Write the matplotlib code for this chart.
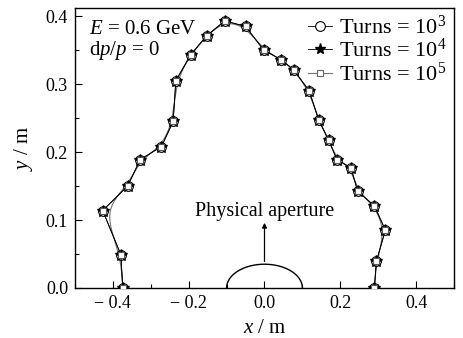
import numpy as np
import matplotlib
matplotlib.use("Agg")
import matplotlib.pyplot as plt
from matplotlib.lines import Line2D

plt.rcParams['font.family'] = ['Liberation Serif', 'DejaVu Serif']
plt.rcParams['mathtext.fontset'] = 'custom'
plt.rcParams['mathtext.rm'] = 'Liberation Serif'
plt.rcParams['mathtext.it'] = 'Liberation Serif:italic'

# Dynamic aperture boundary (x, y) in m
x_1e3 = [-0.374, -0.379, -0.427, -0.361, -0.328, -0.272, -0.241, -0.234, -0.195, -0.153,
         -0.105, -0.050, -0.002, 0.044, 0.077, 0.118, 0.143, 0.169, 0.191, 0.228,
         0.246, 0.290, 0.319, 0.295, 0.290]
y_1e3 = [0.000, 0.049, 0.114, 0.150, 0.189, 0.208, 0.245, 0.305, 0.343, 0.371,
         0.393, 0.385, 0.350, 0.336, 0.321, 0.290, 0.247, 0.218, 0.189, 0.177,
         0.142, 0.121, 0.085, 0.039, 0.000]
x_1e4 = list(x_1e3)
y_1e4 = list(y_1e3)
x_1e5 = list(x_1e3)
y_1e5 = list(y_1e3)

# Physical aperture (semi-ellipse)
ap_halfwidth = 0.1
ap_height = 0.035


def bspline(xs, ys, n=20):
    """Clamped uniform cubic B-spline through control points (like Origin's B-spline connect)."""
    P = np.column_stack([xs, ys])
    P = np.vstack([P[0], P[0], P, P[-1], P[-1]])
    t = np.linspace(0, 1, n, endpoint=False)
    b0 = (1 - t) ** 3 / 6
    b1 = (3 * t**3 - 6 * t**2 + 4) / 6
    b2 = (-3 * t**3 + 3 * t**2 + 3 * t + 1) / 6
    b3 = t**3 / 6
    pts = []
    for i in range(len(P) - 3):
        seg = (np.outer(b0, P[i]) + np.outer(b1, P[i + 1]) +
               np.outer(b2, P[i + 2]) + np.outer(b3, P[i + 3]))
        pts.append(seg)
    pts.append(P[-1][None, :])
    pts = np.vstack(pts)
    return pts[:, 0], pts[:, 1]


fig = plt.figure(figsize=(4.64, 3.38), dpi=100)
ax = fig.add_axes([75/464, 1-288/338, 379/464, 280/338])

bx, by = bspline(x_1e5, y_1e5)
ax.plot(bx, by, color='0.45', lw=0.8, zorder=1)
ax.plot(x_1e3, y_1e3, color='black', lw=0.6, marker='o', ms=7, mfc='white', mec='black', mew=0.8, zorder=2)
ax.plot(x_1e4, y_1e4, color='black', lw=0.6, marker='*', ms=9, mfc='black', mec='black', zorder=3)
ax.plot(x_1e5, y_1e5, ls='none', marker='s', ms=5, mfc='white', mec='0.35', mew=0.8, zorder=4)

t = np.linspace(0, np.pi, 200)
ax.plot(ap_halfwidth*np.cos(t), ap_height*np.sin(t), color='black', lw=1.0)
ax.annotate('', xy=(0, 0.1), xytext=(0, ap_height),
            arrowprops=dict(arrowstyle='-|>', color='black', lw=0.9, mutation_scale=7))
ax.text(0, 0.113, 'Physical aperture', ha='center', va='center', fontsize=14.5)

ax.text(-0.462, 0.381, r'$E$ = 0.6 GeV', fontsize=15, va='center')
ax.text(-0.462, 0.349, r'd$p$/$p$ = 0', fontsize=15, va='center')

ax.set_xlim(-0.5, 0.5)
ax.set_ylim(0, 0.412)
ax.set_xticks([-0.4, -0.2, 0.0, 0.2, 0.4])
ax.set_xticklabels(['\u2212 0.4', '\u2212 0.2', '0.0', '0.2', '0.4'])
ax.set_xticks(np.arange(-0.5, 0.51, 0.1), minor=True)
ax.set_yticks([0.0, 0.1, 0.2, 0.3, 0.4])
ax.set_yticks(np.arange(0.05, 0.41, 0.1), minor=True)
ax.tick_params(direction='in', which='both', labelsize=13, length=5, width=0.8, pad=5)
ax.tick_params(which='minor', length=3)
for s in ax.spines.values():
    s.set_linewidth(1.0)

ax.set_xlabel(r'$x$ / m', fontsize=15, labelpad=5)
ax.set_ylabel(r'$y$ / m', fontsize=15, labelpad=8)

handles = [
    Line2D([], [], color='black', lw=0.6, marker='o', ms=7, mfc='white', mec='black', mew=0.8),
    Line2D([], [], color='black', lw=0.6, marker='*', ms=8, mfc='black', mec='black'),
    Line2D([], [], color='0.45', lw=0.8, marker='s', ms=4.5, mfc='white', mec='0.4', mew=0.8),
]
labels = [r'Turns = 10$^3$', r'Turns = 10$^4$', r'Turns = 10$^5$']
ax.legend(handles, labels, loc='upper right', frameon=False, fontsize=16,
          handlelength=1.1, handletextpad=0.3, labelspacing=0.0,
          borderaxespad=0.1, borderpad=0.25)

fig.savefig('out.png', dpi=100)
